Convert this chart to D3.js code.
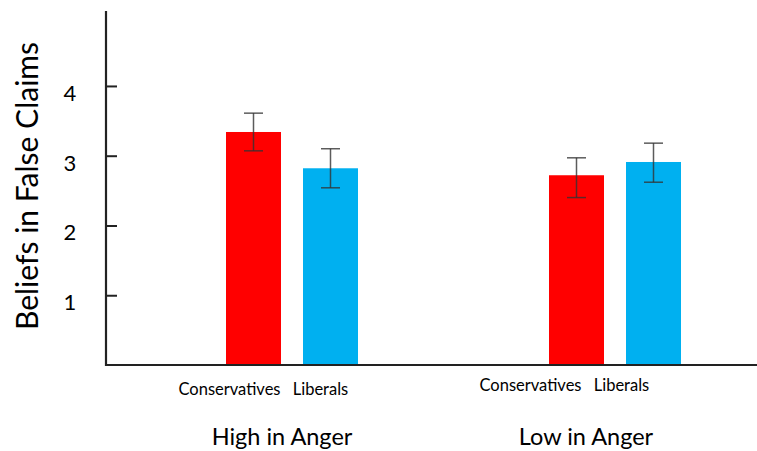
<!DOCTYPE html>
<html>
<head>
<meta charset="utf-8">
<script src="https://cdn.jsdelivr.net/npm/d3@7"></script>
<style>
  body { margin: 0; background: #fff; }
  text { font-family: Lato, "Open Sans", sans-serif; fill: #000; }
</style>
</head>
<body>
<div id="chart"></div>
<script>
// data
var groups = ["High in Anger", "Low in Anger"];
var series = ["Conservatives", "Liberals"];
var colors = ["#ff0000", "#00b0f0"];
// bar heights, one row per group
var means = [[3.34, 2.82], [2.72, 2.91]];
// error bar ends
var errLow = [[3.07, 2.54], [2.40, 2.62]];
var errHigh = [[3.61, 3.10], [2.97, 3.18]];
var yTicks = [1, 2, 3, 4];
var yTitle = "Beliefs in False Claims";

var width = 757, height = 451;

var svg = d3.select("#chart").append("svg")
  .attr("width", width)
  .attr("height", height);

// y scale: 0 sits on the baseline
var y = d3.scaleLinear()
  .domain([0, 5.06])
  .range([365, 12]);

// group centres and bars inside a group
var x0 = d3.scalePoint()
  .domain(groups)
  .range([292, 615]);

var x1 = d3.scaleBand()
  .domain(series)
  .range([-66, 66])
  .paddingInner(0.2857)
  .paddingOuter(0);

var axisX = 106;

// bars
groups.forEach(function (g, gi) {
  var grp = svg.append("g").attr("transform", "translate(" + x0(g) + ",0)");
  series.forEach(function (s, si) {
    grp.append("rect")
      .attr("x", x1(s))
      .attr("y", y(means[gi][si]))
      .attr("width", x1.bandwidth())
      .attr("height", y(0) - y(means[gi][si]))
      .style("fill", colors[si]);

    var cx = x1(s) + x1.bandwidth() / 2;
    var eb = grp.append("g")
      .style("stroke", "#333")
      .style("stroke-opacity", 0.8)
      .style("stroke-width", 1.5);
    eb.append("line")
      .attr("x1", cx).attr("x2", cx)
      .attr("y1", y(errHigh[gi][si])).attr("y2", y(errLow[gi][si]));
    eb.append("line")
      .attr("x1", cx - 9.5).attr("x2", cx + 9.5)
      .attr("y1", y(errHigh[gi][si])).attr("y2", y(errHigh[gi][si]));
    eb.append("line")
      .attr("x1", cx - 9.5).attr("x2", cx + 9.5)
      .attr("y1", y(errLow[gi][si])).attr("y2", y(errLow[gi][si]));
  });
});

// y axis, ticks point inward
var yAxis = d3.axisRight(y)
  .tickValues(yTicks)
  .tickSize(11)
  .tickFormat("");

var yg = svg.append("g")
  .attr("transform", "translate(" + axisX + ",0)")
  .call(yAxis);
yg.select(".domain").remove();
yg.selectAll(".tick line").style("stroke", "#222").style("stroke-width", 2);

svg.append("line")
  .attr("x1", axisX).attr("x2", axisX)
  .attr("y1", 11).attr("y2", y(0) + 1)
  .style("stroke", "#222").style("stroke-width", 2.2);

// x axis line runs to the right edge
svg.append("line")
  .attr("x1", axisX - 1).attr("x2", width)
  .attr("y1", y(0)).attr("y2", y(0))
  .style("stroke", "#222").style("stroke-width", 2.2);

// tick labels
svg.selectAll(".ylab")
  .data(yTicks)
  .enter()
  .append("text")
  .attr("class", "ylab")
  .attr("x", 70)
  .attr("y", function (d) { return y(d) + 15; })
  .attr("text-anchor", "middle")
  .style("font-size", "22px")
  .text(function (d) { return d; });

// y title
svg.append("text")
  .attr("transform", "translate(38,186) rotate(-90)")
  .attr("text-anchor", "middle")
  .style("font-size", "30px")
  .text(yTitle);

// labels under the bars (they sit a bit left of the bars in the original)
var groupShift = [-10, -32];
var labelY = [395, 391];
groups.forEach(function (g, gi) {
  series.forEach(function (s, si) {
    svg.append("text")
      .attr("x", x0(g) + x1(s) + x1.bandwidth() / 2 + groupShift[gi] + (si == 0 ? -14 : 0))
      .attr("y", labelY[gi])
      .attr("text-anchor", "middle")
      .style("font-size", "16.5px")
      .text(s);
  });
  svg.append("text")
    .attr("x", x0(g) + groupShift[gi] + (gi == 1 ? 3 : 0))
    .attr("y", 445)
    .attr("text-anchor", "middle")
    .style("font-size", "23.5px")
    .text(g);
});
</script>
</body>
</html>
